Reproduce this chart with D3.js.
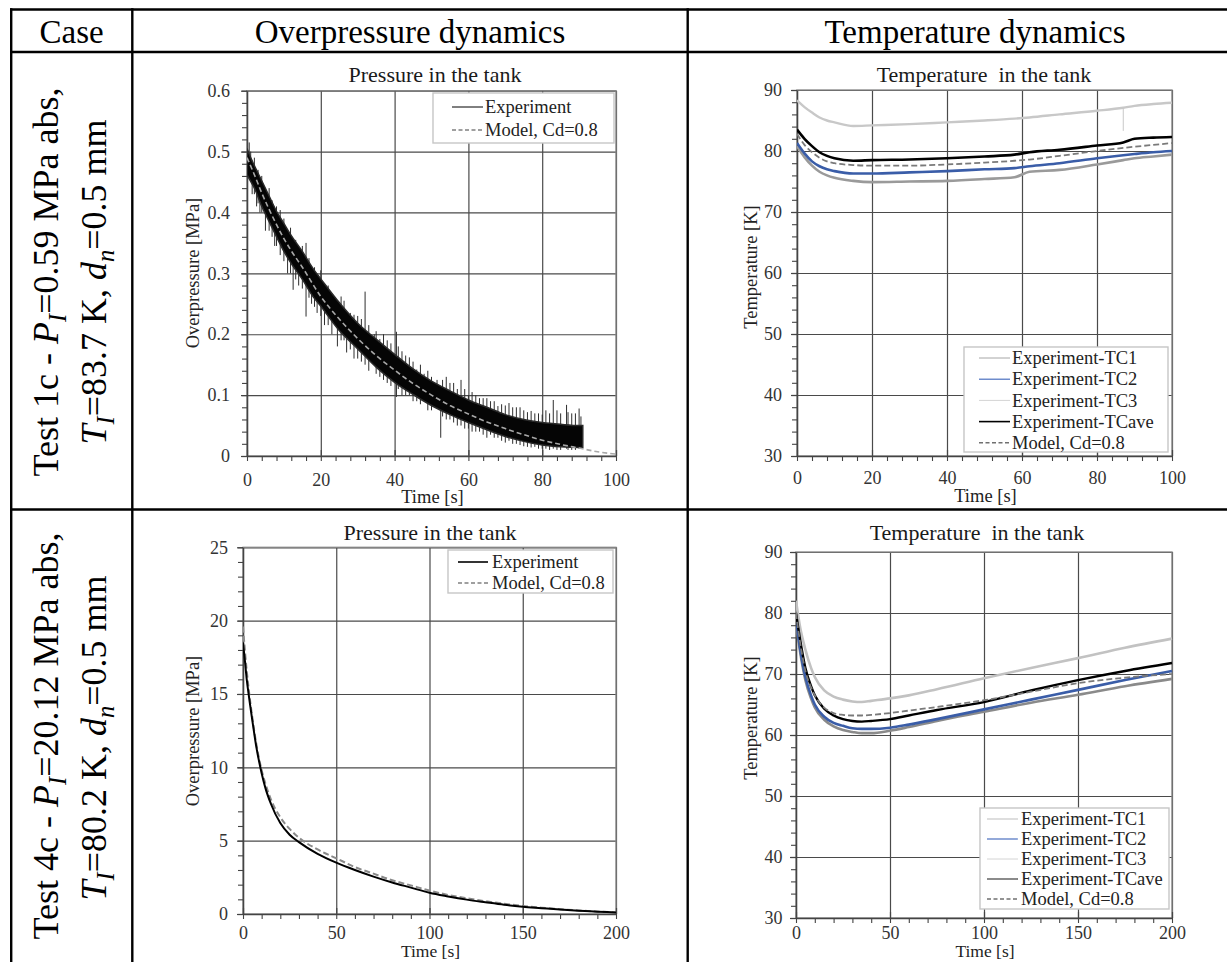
<!DOCTYPE html>
<html>
<head>
<meta charset="utf-8">
<script src="https://cdn.jsdelivr.net/npm/d3@7/dist/d3.min.js"></script>
<style>
html,body{margin:0;padding:0;background:#fff;}
svg{display:block;}
</style>
</head>
<body>
<svg id="chart" width="1227" height="962"></svg>
<script>
// ================= DATA =================
const headerLabels = ["Case", "Overpressure dynamics", "Temperature dynamics"];

// case descriptions: [text, style]  ("" normal, "i" italic, "s" italic subscript)
const case1Line1 = [["Test 1c - ", ""], ["P", "i"], ["I", "s"], ["=0.59 MPa abs,", ""]];
const case1Line2 = [["T", "i"], ["I", "s"], ["=83.7 K, ", ""], ["d", "i"], ["n", "s"], ["=0.5 mm", ""]];
const case2Line1 = [["Test 4c - ", ""], ["P", "i"], ["I", "s"], ["=20.12 MPa abs,", ""]];
const case2Line2 = [["T", "i"], ["I", "s"], ["=80.2 K, ", ""], ["d", "i"], ["n", "s"], ["=0.5 mm", ""]];

const pressureTitle = "Pressure in the tank";
const temperatureTitle = "Temperature  in the tank";
const timeLabel = "Time [s]";
const pressureAxisLabel = "Overpressure [MPa]";
const temperatureAxisLabel = "Temperature [K]";
const pressureSeriesNames = ["Experiment", "Model, Cd=0.8"];
const temperatureSeriesNames = ["Experiment-TC1", "Experiment-TC2", "Experiment-TC3", "Experiment-TCave", "Model, Cd=0.8"];

// ---- Test 1c : ticks ----
const t1cTimeTicks = [0, 20, 40, 60, 80, 100];
const t1cTimeTickLabels = ["0", "20", "40", "60", "80", "100"];
const t1cPressTicks = [0, 0.1, 0.2, 0.3, 0.4, 0.5, 0.6];
const t1cPressTickLabels = ["0", "0.1", "0.2", "0.3", "0.4", "0.5", "0.6"];
const tempTicks = [30, 40, 50, 60, 70, 80, 90];
const tempTickLabels = ["30", "40", "50", "60", "70", "80", "90"];

// ---- Test 1c : pressure, experiment (noisy band: upper / lower envelope) ----
const t1cExpTime  = [0, 1, 2, 4, 6, 8, 10, 12, 15, 18, 20, 25, 30, 35, 40, 45, 50, 55, 60, 65, 70, 75, 80, 85, 90, 91];
const t1cExpUpper = [0.505, 0.49, 0.477, 0.452, 0.427, 0.402, 0.382, 0.362, 0.336, 0.307, 0.291, 0.252, 0.218, 0.192, 0.167, 0.143, 0.123, 0.107, 0.092, 0.080, 0.068, 0.060, 0.055, 0.052, 0.050, 0.050];
const t1cExpLower = [0.462, 0.451, 0.440, 0.410, 0.385, 0.360, 0.336, 0.316, 0.290, 0.261, 0.246, 0.206, 0.176, 0.146, 0.121, 0.101, 0.083, 0.068, 0.055, 0.043, 0.032, 0.024, 0.018, 0.015, 0.014, 0.014];
// individual noise spikes: [time, low, high]
const t1cExpSpikes = [
  [0.6, 0.47, 0.515], [1.4, 0.43, 0.485], [2.6, 0.41, 0.46], [3.5, 0.40, 0.452], [5, 0.37, 0.432],
  [7.5, 0.345, 0.405], [9, 0.33, 0.404], [11, 0.30, 0.365], [12.5, 0.273, 0.34], [14, 0.28, 0.335],
  [16, 0.229, 0.35], [17.5, 0.25, 0.312], [19, 0.235, 0.292], [21, 0.215, 0.278], [23, 0.20, 0.262],
  [24.5, 0.18, 0.246], [27, 0.17, 0.228], [29, 0.16, 0.232], [32, 0.15, 0.27], [34.5, 0.16, 0.20],
  [36, 0.13, 0.192], [38, 0.12, 0.19], [40.5, 0.097, 0.204], [42, 0.10, 0.172], [44, 0.10, 0.162],
  [46, 0.09, 0.142], [48, 0.10, 0.135], [50, 0.075, 0.13], [51.5, 0.086, 0.125], [52.5, 0.03, 0.11],
  [55, 0.06, 0.12], [58, 0.05, 0.125], [60, 0.045, 0.10], [63, 0.04, 0.095], [66, 0.035, 0.09],
  [68, 0.03, 0.082], [71, 0.025, 0.087], [73, 0.02, 0.08], [76, 0.015, 0.072], [78, 0.015, 0.07],
  [80, 0.012, 0.068], [83, 0.012, 0.092], [85, 0.010, 0.07], [86.6, 0.012, 0.084], [88, 0.010, 0.07],
  [90, 0.012, 0.078],
  [1, 0.455, 0.50], [2, 0.43, 0.49], [3, 0.415, 0.47], [4, 0.40, 0.46], [6, 0.37, 0.44],
  [6.8, 0.36, 0.42], [8, 0.345, 0.41], [10, 0.32, 0.39], [11.8, 0.30, 0.375], [13.2, 0.29, 0.355],
  [15, 0.275, 0.345], [16.8, 0.26, 0.325], [18.3, 0.245, 0.31], [20, 0.23, 0.305], [22, 0.215, 0.28],
  [25.5, 0.19, 0.262], [26.3, 0.19, 0.255], [28, 0.175, 0.235], [30, 0.16, 0.23], [31, 0.155, 0.225],
  [33, 0.14, 0.215], [35, 0.135, 0.205], [37, 0.125, 0.20], [39, 0.115, 0.185], [41, 0.11, 0.18],
  [43, 0.10, 0.165], [45, 0.09, 0.155], [47, 0.085, 0.15], [49, 0.075, 0.14], [53, 0.065, 0.125],
  [54, 0.06, 0.13], [56, 0.055, 0.12], [57, 0.05, 0.11], [59, 0.045, 0.11], [61, 0.04, 0.105],
  [62, 0.04, 0.10], [64, 0.035, 0.095], [65, 0.03, 0.095], [67, 0.03, 0.09], [69, 0.025, 0.085],
  [70, 0.022, 0.083], [72, 0.02, 0.08], [74, 0.018, 0.08], [75, 0.016, 0.075], [77, 0.014, 0.074],
  [79, 0.012, 0.07], [81, 0.012, 0.075], [82, 0.010, 0.07], [84, 0.010, 0.075], [87, 0.010, 0.072],
  [89, 0.010, 0.07], [90.5, 0.012, 0.065]
];
// ---- Test 1c : pressure, model ----
const t1cModelTime  = [0, 2, 4, 6, 8, 10, 12, 15, 20, 25, 30, 35, 40, 45, 50, 55, 60, 65, 70, 75, 80, 85, 90, 95, 100];
const t1cModelPress = [0.49, 0.462, 0.432, 0.405, 0.38, 0.357, 0.337, 0.31, 0.262, 0.225, 0.193, 0.165, 0.141, 0.119, 0.10, 0.083, 0.069, 0.056, 0.045, 0.035, 0.026, 0.019, 0.013, 0.007, 0.003];

// ---- Test 1c : temperature ----
const t1cTempTime = [0, 2, 4, 6, 8, 10, 15, 20, 30, 40, 50, 58, 62, 70, 80, 87, 90, 95, 100];
const t1cTC1   = [80.8, 79.0, 77.6, 76.6, 76.0, 75.6, 75.1, 74.9, 75.0, 75.1, 75.4, 75.7, 76.6, 76.9, 77.8, 78.5, 78.8, 79.1, 79.4];
const t1cTC2   = [81.3, 79.6, 78.3, 77.5, 77.0, 76.7, 76.3, 76.3, 76.5, 76.7, 77.0, 77.2, 77.5, 78.0, 78.8, 79.3, 79.5, 79.8, 80.0];
const t1cTC3   = [88.3, 87.2, 86.3, 85.5, 85.0, 84.7, 84.1, 84.2, 84.4, 84.7, 85.0, 85.3, 85.5, 86.0, 86.6, 87.1, 87.4, 87.7, 87.9];
const t1cTCave = [83.5, 82.0, 80.8, 79.8, 79.2, 78.8, 78.4, 78.5, 78.6, 78.8, 79.1, 79.4, 79.8, 80.2, 80.9, 81.4, 82.0, 82.2, 82.3];
const t1cTModel= [82.8, 81.0, 79.8, 78.9, 78.3, 78.0, 77.7, 77.6, 77.6, 77.8, 78.1, 78.4, 78.6, 79.2, 80.0, 80.5, 80.7, 81.0, 81.3];
const t1cTC3Spike = [87, 83.3, 87.1];

// ---- Test 4c : ticks ----
const t4cTimeTicks = [0, 50, 100, 150, 200];
const t4cTimeTickLabels = ["0", "50", "100", "150", "200"];
const t4cPressTicks = [0, 5, 10, 15, 20, 25];
const t4cPressTickLabels = ["0", "5", "10", "15", "20", "25"];

// ---- Test 4c : pressure ----
const t4cPressTime = [0, 1, 2, 3, 5, 7, 10, 12, 15, 20, 25, 30, 40, 50, 60, 70, 80, 90, 100, 110, 120, 130, 140, 150, 160, 170, 180, 190, 200];
const t4cExpPress  = [18.5, 17.3, 16.0, 15.0, 13.2, 11.5, 9.6, 8.6, 7.5, 6.2, 5.4, 4.9, 4.1, 3.5, 3.0, 2.55, 2.15, 1.8, 1.45, 1.2, 0.98, 0.8, 0.63, 0.5, 0.4, 0.3, 0.22, 0.16, 0.1];
const t4cModelPress= [19.6, 18.0, 16.6, 15.4, 13.4, 11.7, 9.8, 8.9, 7.8, 6.6, 5.8, 5.2, 4.4, 3.8, 3.2, 2.75, 2.3, 1.95, 1.6, 1.3, 1.07, 0.87, 0.7, 0.55, 0.43, 0.33, 0.24, 0.17, 0.11];

// ---- Test 4c : temperature ----
const t4cTempTime = [0, 2, 5, 8, 10, 15, 20, 25, 30, 35, 40, 50, 60, 75, 100, 125, 150, 175, 200];
const t4cTC1   = [78.5, 74.0, 69.0, 66.0, 64.5, 62.5, 61.4, 60.8, 60.5, 60.3, 60.3, 60.7, 61.3, 62.3, 63.8, 65.3, 66.6, 68.0, 69.2];
const t4cTC2   = [79.0, 74.5, 69.5, 66.5, 65.0, 63.0, 62.0, 61.5, 61.1, 61.0, 61.0, 61.2, 61.7, 62.6, 64.2, 65.8, 67.4, 69.0, 70.5];
const t4cTC3   = [82.0, 78.0, 74.0, 71.0, 69.5, 67.3, 66.3, 65.8, 65.5, 65.4, 65.6, 66.0, 66.5, 67.5, 69.3, 71.0, 72.6, 74.3, 75.8];
const t4cTCave = [80.0, 76.0, 71.0, 68.0, 66.5, 64.3, 63.2, 62.6, 62.3, 62.2, 62.3, 62.6, 63.2, 64.1, 65.4, 67.3, 69.0, 70.5, 71.8];
const t4cTModel= [80.0, 75.5, 70.5, 67.8, 66.5, 64.5, 63.6, 63.3, 63.2, 63.2, 63.3, 63.6, 64.0, 64.6, 65.7, 67.1, 68.5, 69.4, 70.0];

// ================= DRAWING =================
const FONT = '"Liberation Serif","Times New Roman",Times,serif';
const svg = d3.select("#chart").attr("font-family", FONT);

// ---- table frame ----
const tbl = svg.append("g").attr("stroke", "#000").attr("stroke-width", 2.4);
tbl.append("line").attr("x1", 10).attr("x2", 1227).attr("y1", 9.5).attr("y2", 9.5);
tbl.append("line").attr("x1", 10).attr("x2", 1227).attr("y1", 52).attr("y2", 52);
tbl.append("line").attr("x1", 10).attr("x2", 1227).attr("y1", 509.5).attr("y2", 509.5);
[11.2, 132.3, 687.7].forEach(xv =>
  tbl.append("line").attr("x1", xv).attr("x2", xv).attr("y1", 8.3).attr("y2", 962));

// header texts
const headerCenters = [71.7, 410, 975];
headerLabels.forEach((h, i) => {
  svg.append("text").attr("x", headerCenters[i]).attr("y", 43).attr("text-anchor", "middle")
    .attr("font-size", 33).attr("fill", "#000").text(h);
});

// case labels (rotated)
function caseLine(parts, bx, cy) {
  const fs = 36;
  const t = svg.append("text").attr("transform", `translate(${bx},${cy}) rotate(-90)`)
    .attr("text-anchor", "middle").attr("font-size", fs).attr("fill", "#000");
  let shifted = false;
  parts.forEach(([txt, st]) => {
    const s = t.append("tspan").text(txt);
    if (st === "i" || st === "s") s.attr("font-style", "italic");
    if (st === "s") { s.attr("font-size", fs * 0.68).attr("dy", 8); shifted = true; }
    else if (shifted) { s.attr("dy", -8); shifted = false; }
  });
}
caseLine(case1Line1, 58, 282);
caseLine(case1Line2, 106, 282);
caseLine(case2Line1, 58, 736);
caseLine(case2Line2, 106, 738);

// ---- generic chart frame ----
function chartFrame(o) {
  const g = svg.append("g");
  const x = d3.scaleLinear().domain(o.xDomain).range([o.left, o.right]);
  const y = d3.scaleLinear().domain(o.yDomain).range([o.bottom, o.top]);
  const W = o.right - o.left, H = o.bottom - o.top;

  // grid
  const gx = g.append("g").attr("transform", `translate(0,${o.bottom})`)
    .call(d3.axisBottom(x).tickValues(o.xTicks).tickSize(-H).tickFormat(""));
  gx.select(".domain").remove();
  gx.selectAll("line").attr("stroke", "#4a4a4a").attr("stroke-width", 1.2);
  const gy = g.append("g").attr("transform", `translate(${o.left},0)`)
    .call(d3.axisLeft(y).tickValues(o.yTicks).tickSize(-W).tickFormat(""));
  gy.select(".domain").remove();
  gy.selectAll("line").attr("stroke", "#4a4a4a").attr("stroke-width", 1.2);

  // border
  g.append("rect").attr("x", o.left).attr("y", o.top).attr("width", W).attr("height", H)
    .attr("fill", "none").attr("stroke", "#858585").attr("stroke-width", 1.3);

  // minor ticks
  const xMinor = d3.range(o.xDomain[0], o.xDomain[1] + 1e-9, o.xMinor);
  const yMinor = d3.range(o.yDomain[0], o.yDomain[1] + 1e-9, o.yMinor);
  const mx = g.append("g").attr("transform", `translate(0,${o.bottom})`)
    .call(d3.axisBottom(x).tickValues(xMinor).tickSize(5).tickSizeOuter(0).tickFormat(""));
  mx.select(".domain").attr("stroke", "#444").attr("stroke-width", 1.4);
  mx.selectAll("line").attr("stroke", "#444").attr("stroke-width", 1.1);
  const Mx = g.append("g").attr("transform", `translate(0,${o.bottom})`)
    .call(d3.axisBottom(x).tickValues(o.xTicks).tickSize(-6).tickFormat(""));
  Mx.select(".domain").remove();
  Mx.selectAll("line").attr("stroke", "#444").attr("stroke-width", 1.2);
  const my = g.append("g").attr("transform", `translate(${o.left},0)`)
    .call(d3.axisLeft(y).tickValues(yMinor).tickSize(5).tickSizeOuter(0).tickFormat(""));
  my.select(".domain").attr("stroke", "#444").attr("stroke-width", 1.4);
  my.selectAll("line").attr("stroke", "#444").attr("stroke-width", 1.1);
  const My = g.append("g").attr("transform", `translate(${o.left},0)`)
    .call(d3.axisLeft(y).tickValues(o.yTicks).tickSize(6).tickFormat(""));
  My.select(".domain").remove();
  My.selectAll("line").attr("stroke", "#444").attr("stroke-width", 1.2);

  // tick labels
  const lx = g.append("g").attr("transform", `translate(0,${o.bottom})`)
    .call(d3.axisBottom(x).tickValues(o.xTicks).tickSize(0).tickPadding(o.xPad)
      .tickFormat((d, i) => o.xLabels[i]));
  lx.select(".domain").remove();
  lx.attr("font-family", null).attr("font-size", null);
  lx.selectAll("text").attr("font-size", 18).attr("fill", "#333").attr("font-family", FONT);
  const ly = g.append("g").attr("transform", `translate(${o.left},0)`)
    .call(d3.axisLeft(y).tickValues(o.yTicks).tickSize(0).tickPadding(o.yPad)
      .tickFormat((d, i) => o.yLabels[i]));
  ly.select(".domain").remove();
  ly.attr("font-family", null).attr("font-size", null);
  ly.selectAll("text").attr("font-size", 18).attr("fill", "#333").attr("font-family", FONT);

  // titles
  g.append("text").attr("x", o.titleX).attr("y", o.titleY).attr("text-anchor", "middle")
    .attr("font-size", 22).attr("fill", "#1a1a1a").style("white-space", "pre").text(o.title);
  g.append("text").attr("x", (o.left + o.right) / 2 + 1).attr("y", o.xTitleY).attr("text-anchor", "middle")
    .attr("font-size", o.xTitleSize || 18.5).attr("fill", "#222").text(o.xTitle);
  g.append("text").attr("transform", `translate(${o.yTitleX},${o.yTitleY}) rotate(-90)`)
    .attr("text-anchor", "middle").attr("font-size", 18.5).attr("fill", "#222").text(o.yTitle);

  // clip
  const id = "clip" + Math.round(o.left) + "_" + Math.round(o.top);
  svg.append("clipPath").attr("id", id).append("rect")
    .attr("x", o.left).attr("y", o.top - 2).attr("width", W + 2).attr("height", H + 2);
  const data = g.append("g").attr("clip-path", `url(#${id})`);
  return { g, x, y, data };
}

function legend(g, box, row0, rowStep, lineX, textX, items) {
  g.append("rect").attr("x", box[0]).attr("y", box[1]).attr("width", box[2] - box[0])
    .attr("height", box[3] - box[1]).attr("fill", "#fff").attr("stroke", "#c6c6c6").attr("stroke-width", 1.4);
  items.forEach((it, i) => {
    const yy = row0 + i * rowStep;
    g.append("line").attr("x1", lineX[0]).attr("x2", lineX[1]).attr("y1", yy).attr("y2", yy)
      .attr("stroke", it.color).attr("stroke-width", it.w).attr("stroke-dasharray", it.dash || null);
    g.append("text").attr("x", textX).attr("y", yy).attr("dy", "0.34em").attr("font-size", 18.5)
      .attr("fill", "#222").text(it.name);
  });
}

const tempColors = ["#9a9a9a", "#3a5da8", "#c8c8c8", "#000000", "#7a7a7a"];

// ---------- Chart 1: Test 1c pressure ----------
(function () {
  const c = chartFrame({
    left: 247, right: 616, top: 90.7, bottom: 456,
    xDomain: [0, 100], yDomain: [0, 0.6], xTicks: t1cTimeTicks, yTicks: t1cPressTicks,
    xLabels: t1cTimeTickLabels, yLabels: t1cPressTickLabels, xMinor: 4, yMinor: 0.02,
    xPad: 17, yPad: 17, title: pressureTitle, titleX: 435, titleY: 82,
    xTitle: timeLabel, xTitleY: 503, yTitle: pressureAxisLabel, yTitleX: 199, yTitleY: 273
  });
  const { x, y, data } = c;
  data.selectAll("line.spike").data(t1cExpSpikes).join("line")
    .attr("x1", d => x(d[0])).attr("x2", d => x(d[0]))
    .attr("y1", d => y(d[1])).attr("y2", d => y(d[2]))
    .attr("stroke", "#2e2e2e").attr("stroke-width", 1);
  const band = d3.area().curve(d3.curveMonotoneX)
    .x((d, i) => x(t1cExpTime[i])).y0((d, i) => y(t1cExpLower[i])).y1(d => y(d));
  data.append("path").attr("d", band(t1cExpUpper)).attr("fill", "#050505")
    .attr("stroke", "#2a2a2a").attr("stroke-width", 1.5);
  const ml = d3.line().curve(d3.curveMonotoneX).x((d, i) => x(t1cModelTime[i])).y(d => y(d));
  data.append("path").attr("d", ml(t1cModelPress)).attr("fill", "none")
    .attr("stroke", "#a8a8a8").attr("stroke-width", 1.6).attr("stroke-dasharray", "5,3");
  legend(c.g, [433, 93, 614, 143], 107, 23, [452, 483], 485, [
    { name: pressureSeriesNames[0], color: "#000", w: 1 },
    { name: pressureSeriesNames[1], color: "#808080", w: 1.5, dash: "4,2.5" }
  ]);
})();

// ---------- Chart 2: Test 1c temperature ----------
(function () {
  const c = chartFrame({
    left: 797, right: 1172, top: 90, bottom: 456,
    xDomain: [0, 100], yDomain: [30, 90], xTicks: t1cTimeTicks, yTicks: tempTicks,
    xLabels: t1cTimeTickLabels, yLabels: tempTickLabels, xMinor: 4, yMinor: 2,
    xPad: 15.5, yPad: 15, title: temperatureTitle, titleX: 984, titleY: 82,
    xTitle: timeLabel, xTitleY: 502, yTitle: temperatureAxisLabel, yTitleX: 757, yTitleY: 267
  });
  const { x, y, data } = c;
  const line = d3.line().curve(d3.curveMonotoneX).x((d, i) => x(t1cTempTime[i])).y(d => y(d));
  data.append("line").attr("x1", x(t1cTC3Spike[0])).attr("x2", x(t1cTC3Spike[0]))
    .attr("y1", y(t1cTC3Spike[1])).attr("y2", y(t1cTC3Spike[2])).attr("stroke", tempColors[2]).attr("stroke-width", 1);
  [[t1cTC3, 2, 2.4], [t1cTC1, 0, 2.6], [t1cTC2, 1, 2.6], [t1cTCave, 3, 2.6]].forEach(([arr, ci, w]) => {
    data.append("path").attr("d", line(arr)).attr("fill", "none").attr("stroke", tempColors[ci]).attr("stroke-width", w);
  });
  data.append("path").attr("d", line(t1cTModel)).attr("fill", "none").attr("stroke", tempColors[4])
    .attr("stroke-width", 1.8).attr("stroke-dasharray", "6,3");
  legend(c.g, [964, 347, 1168, 452], 358, 21.2, [979, 1010], 1012, [
    { name: temperatureSeriesNames[0], color: "#a6a6a6", w: 1 },
    { name: temperatureSeriesNames[1], color: "#4a70c0", w: 1.2 },
    { name: temperatureSeriesNames[2], color: "#d4d4d4", w: 1 },
    { name: temperatureSeriesNames[3], color: "#000", w: 1.6 },
    { name: temperatureSeriesNames[4], color: "#707070", w: 1.5, dash: "4,2.5" }
  ]);
})();

// ---------- Chart 3: Test 4c pressure ----------
(function () {
  const c = chartFrame({
    left: 243, right: 616, top: 547.3, bottom: 914,
    xDomain: [0, 200], yDomain: [0, 25], xTicks: t4cTimeTicks, yTicks: t4cPressTicks,
    xLabels: t4cTimeTickLabels, yLabels: t4cPressTickLabels, xMinor: 10, yMinor: 1,
    xPad: 12, yPad: 15, title: pressureTitle, titleX: 430, titleY: 540,
    xTitle: timeLabel, xTitleY: 957, xTitleSize: 17.5, yTitle: pressureAxisLabel, yTitleX: 199, yTitleY: 731
  });
  const { x, y, data } = c;
  const line = d3.line().curve(d3.curveMonotoneX).x((d, i) => x(t4cPressTime[i])).y(d => y(d));
  data.append("path").attr("d", line(t4cModelPress)).attr("fill", "none").attr("stroke", "#8a8a8a")
    .attr("stroke-width", 2).attr("stroke-dasharray", "6,3");
  data.append("path").attr("d", line(t4cExpPress)).attr("fill", "none").attr("stroke", "#000")
    .attr("stroke-width", 2);
  legend(c.g, [448, 550, 613, 593], 562, 21, [458, 488], 492, [
    { name: pressureSeriesNames[0], color: "#000", w: 1.6 },
    { name: pressureSeriesNames[1], color: "#808080", w: 1.5, dash: "4,2.5" }
  ]);
})();

// ---------- Chart 4: Test 4c temperature ----------
(function () {
  const c = chartFrame({
    left: 796, right: 1172, top: 552, bottom: 918,
    xDomain: [0, 200], yDomain: [30, 90], xTicks: t4cTimeTicks, yTicks: tempTicks,
    xLabels: t4cTimeTickLabels, yLabels: tempTickLabels, xMinor: 10, yMinor: 2,
    xPad: 8.5, yPad: 13.5, title: temperatureTitle, titleX: 977, titleY: 540,
    xTitle: timeLabel, xTitleY: 957, xTitleSize: 17.5, yTitle: temperatureAxisLabel, yTitleX: 757, yTitleY: 718
  });
  const { x, y, data } = c;
  const line = d3.line().curve(d3.curveMonotoneX).x((d, i) => x(t4cTempTime[i])).y(d => y(d));
  [[t4cTC3, "#c2c2c2", 2.6], [t4cTC1, "#8a8a8a", 2.6], [t4cTC2, tempColors[1], 2.6], [t4cTCave, "#000", 2.4]].forEach(([arr, col, w]) => {
    data.append("path").attr("d", line(arr)).attr("fill", "none").attr("stroke", col).attr("stroke-width", w);
  });
  data.append("path").attr("d", line(t4cTModel)).attr("fill", "none").attr("stroke", tempColors[4])
    .attr("stroke-width", 1.8).attr("stroke-dasharray", "6,3");
  legend(c.g, [980, 808, 1169, 909], 819, 20, [987, 1018], 1021, [
    { name: temperatureSeriesNames[0], color: "#bdbdbd", w: 1 },
    { name: temperatureSeriesNames[1], color: "#4a70c0", w: 1.2 },
    { name: temperatureSeriesNames[2], color: "#d4d4d4", w: 1 },
    { name: temperatureSeriesNames[3], color: "#5a5a5a", w: 1.4 },
    { name: temperatureSeriesNames[4], color: "#707070", w: 1.5, dash: "4,2.5" }
  ]);
})();
</script>
</body>
</html>
